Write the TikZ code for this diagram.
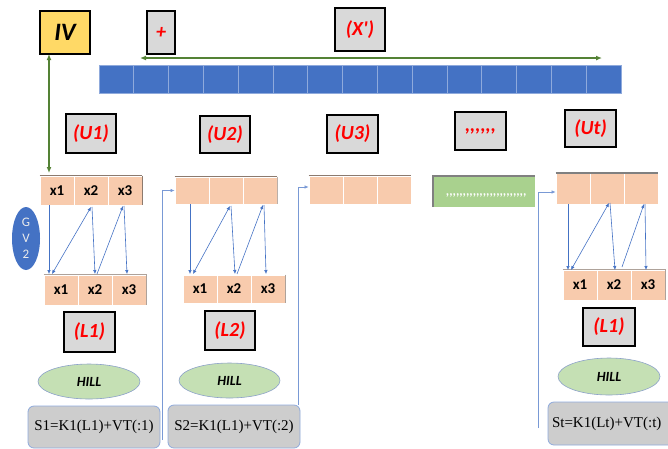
\documentclass[tikz,border=0pt]{standalone}
\usepackage{fontspec}
\setmainfont{Liberation Serif}
\newfontfamily\calib{Carlito}
\usetikzlibrary{shapes.geometric,arrows.meta,calc}
\definecolor{salmon}{HTML}{F8CBAD}
\definecolor{barblue}{HTML}{4472C4}
\definecolor{lineblue}{HTML}{8FAADC}
\definecolor{arrgreen}{HTML}{548235}
\definecolor{ivyellow}{HTML}{FFD966}
\definecolor{lblgray}{HTML}{D9D9D9}
\definecolor{hillgreen}{HTML}{C5E0B4}
\definecolor{bargreen}{HTML}{A9D18E}
\definecolor{sgray}{HTML}{CDCDCD}
\definecolor{shadowbrown}{HTML}{8C7A6E}
\tikzset{
  lbl/.style={draw=black, line width=1.4pt, fill=lblgray, text=red, inner sep=0pt,
    font=\calib\bfseries\itshape\fontsize{20}{20}\selectfont},
  cell/.style={draw=white, line width=0.8pt, fill=salmon, inner sep=0pt, minimum width=34,
    font=\calib\bfseries\fontsize{15}{15}\selectfont},
  hill/.style={ellipse, draw=lineblue!80!gray, line width=0.6pt, fill=hillgreen, inner sep=0pt,
    font=\calib\bfseries\itshape\fontsize{14}{14}\selectfont},
  sbox/.style={draw=lineblue, line width=0.8pt, fill=sgray, rounded corners=6pt, inner sep=0pt,
    font=\fontsize{15}{15}\selectfont},
  thin/.style={draw=barblue, line width=0.6pt, -{Latex[length=4pt,width=3.5pt]}},
  garrow/.style={draw=arrgreen, line width=1.6pt, {Latex[length=6pt,width=5pt]}-{Latex[length=6pt,width=5pt]}},
  topshade/.style={draw=shadowbrown, line width=1.5pt},
}
\begin{document}
\begin{tikzpicture}[x=1pt,y=-1pt]
\useasboundingbox (0,0) rectangle (668,448);
\clip (0,0) rectangle (668,448);

% top label boxes
\node[lbl, fill=ivyellow, text=black, minimum width=50, minimum height=43,
  font=\calib\bfseries\itshape\fontsize{25}{25}\selectfont] (iv) at (65,32.5) {IV};
\node[lbl, minimum width=28, minimum height=43] (plus) at (161,32.5) {+};
\node[lbl, minimum width=50, minimum height=43] (xp) at (360,29.5) {(X')};

% blue bar
\foreach \i in {0,...,14} {
  \node[draw=lineblue, line width=0.7pt, fill=barblue, minimum width=34.8, minimum height=28, inner sep=0pt]
    (bar\i) at ({99+34.8*(\i+0.5)},79) {};
}
\coordinate (hl) at (140,58);
\coordinate (hr) at (602,58);
\draw[garrow] (hl) -- (hr);

% U labels
\node[lbl, minimum width=50, minimum height=39] (u1) at (91,133.5) {(U1)};
\node[lbl, minimum width=50, minimum height=37] (u2) at (225,134.5) {(U2)};
\node[lbl, minimum width=51, minimum height=38] (u3) at (352.5,134) {(U3)};
\node[lbl, minimum width=51, minimum height=38] (udots) at (480.5,131) {,,,,,,};
\node[lbl, minimum width=51, minimum height=37] (ut) at (590.5,128.5) {(Ut)};

% top arrays
\foreach \i/\t in {1/x1,2/x2,3/x3}
  \node[cell, minimum height=29] (ta\i) at ({40+34*(\i-0.5)},190.5) {\t};
\foreach \i in {1,2,3}
  \node[cell, minimum height=27] (tb\i) at ({175+34*(\i-0.5)},190.5) {};
\foreach \i in {1,2,3}
  \node[cell, minimum height=28] (tc\i) at ({309+34*(\i-0.5)},190) {};
\foreach \i in {1,2,3}
  \node[cell, minimum height=31] (td\i) at ({556+34*(\i-0.5)},188.5) {};
\draw[topshade] (ta1.north west) -- (ta3.north east);
\draw[topshade] (tb1.north west) -- (tb3.north east);
\draw[topshade] (tc1.north west) -- (tc3.north east);
\draw[draw=gray, line width=2pt] (td1.north west) -- (td3.north east);
\draw[shadowbrown, line width=1pt] (ta3.north east) -- (ta3.south east);
\draw[shadowbrown!60, line width=1pt] (tb3.north east) -- (tb3.south east);

% green bar
\node[fill=bargreen, minimum width=102, minimum height=31, inner sep=0pt] (gbar) at (484,191.5) {};
\draw[gray, line width=1.5pt] (gbar.south west) -- (gbar.north west) -- (gbar.north east);
\node[text=white, anchor=west, inner sep=0pt, font=\calib\bfseries\itshape\fontsize{13}{13}\selectfont]
  (gtxt) at (446,195) {,,,,,,,,,,,,,,,,,,,,,,,,};

% bottom arrays
\foreach \i/\t in {1/x1,2/x2,3/x3}
  \node[cell, minimum height=30] (ba\i) at ({44+34*(\i-0.5)},290) {\t};
\foreach \i/\t in {1/x1,2/x2,3/x3}
  \node[cell, minimum height=28] (bb\i) at ({183+34*(\i-0.5)},289) {\t};
\foreach \i/\t in {1/x1,2/x2,3/x3}
  \node[cell, minimum height=30] (bd\i) at ({563+34*(\i-0.5)},285) {\t};
\draw[shadowbrown!70, line width=1pt] (ba1.north west) -- (ba3.north east) -- (ba3.south east);
\draw[shadowbrown!70, line width=1pt] (bb3.north east) -- (bb3.south east);
\draw[shadowbrown!70, line width=1pt] (bd1.north west) -- (bd3.north east) -- (bd3.south east);

% GV2
\node[ellipse, fill=barblue, minimum width=28, minimum height=63, inner sep=0pt, text=white!85!gray,
  font=\calib\fontsize{13}{16}\selectfont, align=center] (gv) at (26,238.5) {G\\V\\2};

% green vertical arrow
\coordinate (gva) at (49,54);
\coordinate (gvb) at (49,173);
\draw[garrow] (gva) -- (gvb);

% U1 arrows
\coordinate (a1t) at (49,205);  \coordinate (a1b) at (49,274);
\coordinate (a1s) at (52,274);  \coordinate (a2t) at (91,207);
\coordinate (a2u) at (92,207);  \coordinate (a2b) at (95,274);
\coordinate (a2s) at (97,274);  \coordinate (a3t) at (123,206);
\coordinate (a3u) at (124,206); \coordinate (a3b) at (127,274);
\draw[thin] (a1t) -- (a1b);
\draw[thin, {Latex[length=4pt,width=3.5pt]}-{Latex[length=4pt,width=3.5pt]}] (a1s) -- (a2t);
\draw[thin] (a2u) -- (a2b);
\draw[thin] (a2s) -- (a3t);
\draw[thin] (a3u) -- (a3b);

% U2 arrows
\coordinate (b1t) at (190,204);  \coordinate (b1b) at (190,274);
\coordinate (b1s) at (193,274);  \coordinate (b2t) at (230,206);
\coordinate (b2u) at (231,206);  \coordinate (b2b) at (235,274);
\coordinate (b2s) at (237,274);  \coordinate (b3t) at (263,205);
\coordinate (b3u) at (264,205);  \coordinate (b3b) at (266,274);
\draw[thin] (b1t) -- (b1b);
\draw[thin, {Latex[length=4pt,width=3.5pt]}-{Latex[length=4pt,width=3.5pt]}] (b1s) -- (b2t);
\draw[thin] (b2u) -- (b2b);
\draw[thin] (b2s) -- (b3t);
\draw[thin] (b3u) -- (b3b);

% Ut arrows
\coordinate (d1t) at (568,204);  \coordinate (d1b) at (568,270);
\coordinate (d1s) at (571,270);  \coordinate (d2t) at (609,203);
\coordinate (d2u) at (610,203);  \coordinate (d2b) at (615,270);
\coordinate (d2s) at (622,267);  \coordinate (d3t) at (644,204);
\coordinate (d3u) at (645,204);  \coordinate (d3b) at (646,270);
\draw[thin] (d1t) -- (d1b);
\draw[thin, {Latex[length=4pt,width=3.5pt]}-{Latex[length=4pt,width=3.5pt]}] (d1s) -- (d2t);
\draw[thin] (d2u) -- (d2b);
\draw[thin] (d2s) -- (d3t);
\draw[thin] (d3u) -- (d3b);

% L boxes
\node[lbl, minimum width=51, minimum height=40] (l1) at (89.5,332) {(L1)};
\node[lbl, minimum width=50, minimum height=39] (l2) at (230,330.5) {(L2)};
\node[lbl, minimum width=52, minimum height=38] (lt) at (609,327) {(L1)};

% HILL ellipses
\node[hill, minimum width=102, minimum height=35] (h1) at (89,381.5) {HILL};
\node[hill, minimum width=101, minimum height=35] (h2) at (229.5,380.5) {HILL};
\node[hill, minimum width=102, minimum height=37] (ht) at (609,376.5) {HILL};

% long connectors
\coordinate (c1) at (162,440);
\coordinate (c2) at (298,405);
\coordinate (c3) at (538,428);
\draw[thin, draw=lineblue!70!barblue] (c1) |- (tb1.west);
\draw[thin, draw=lineblue!70!barblue] (c2) |- ($(tc1.west)+(0,-3)$);
\draw[thin, draw=lineblue!70!barblue] (c3) |- ($(td1.west)+(0,3.5)$);

% S boxes
\node[sbox, minimum width=132, minimum height=42] (s1) at (94,427) {S1=K1(L1)+VT(:1)};
\node[sbox, minimum width=132, minimum height=43] (s2) at (234,426.5) {S2=K1(L1)+VT(:2)};
\node[sbox, minimum width=132, minimum height=43, text width=124, align=left] (st) at (614,423.5) {St=K1(Lt)+VT(:t)};
\end{tikzpicture}
\end{document}
